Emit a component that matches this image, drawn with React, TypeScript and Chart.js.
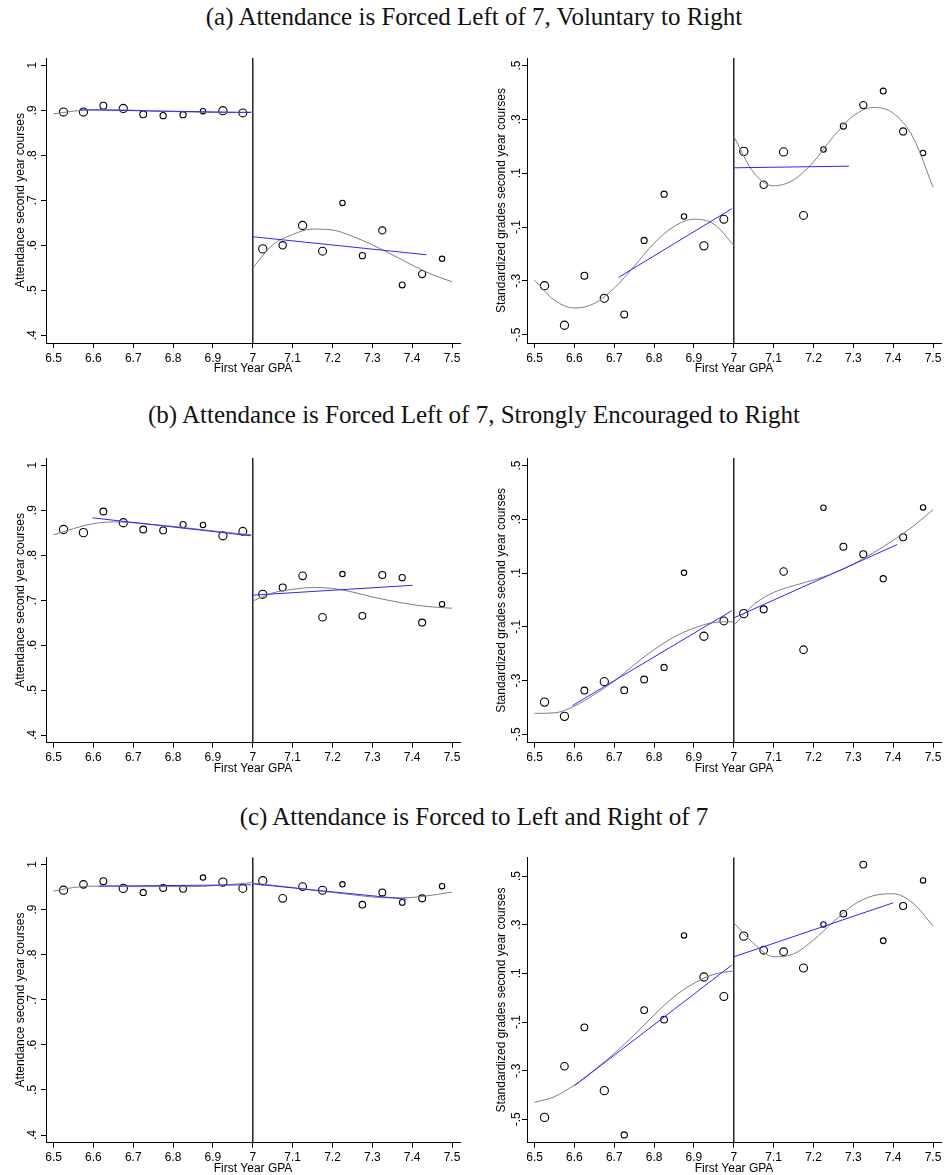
import React, { useEffect, useRef } from "react";
import { Chart, registerables } from "chart.js";

Chart.register(...registerables);

// ---------- data ----------
const gpaBins = [6.525, 6.575, 6.625, 6.675, 6.725, 6.775, 6.825, 6.875, 6.925, 6.975, 7.025, 7.075, 7.125, 7.175, 7.225, 7.275, 7.325, 7.375, 7.425, 7.475];
const xTicks = [6.5, 6.6, 6.7, 6.8, 6.9, 7, 7.1, 7.2, 7.3, 7.4, 7.5];
const attendanceTicks = [0.4, 0.5, 0.6, 0.7, 0.8, 0.9, 1];
const gradeTicks = [-0.5, -0.3, -0.1, 0.1, 0.3, 0.5];
const cutoff = 7;
const curveLeftX = [6.5, 6.55, 6.6, 6.65, 6.7, 6.75, 6.8, 6.85, 6.9, 6.95, 7.0];
const curveRightX = [7.0, 7.05, 7.1, 7.15, 7.2, 7.25, 7.3, 7.35, 7.4, 7.45, 7.5];

// (a) Forced left of 7, voluntary to right
const obsA = [100, 100, 60, 100, 60, 45, 45, 30, 100, 90, 100, 75, 100, 90, 30, 45, 70, 40, 70, 30];
const attendanceA = [0.896, 0.896, 0.91, 0.904, 0.891, 0.888, 0.89, 0.898, 0.899, 0.894, 0.592, 0.6, 0.644, 0.587, 0.694, 0.577, 0.633, 0.512, 0.536, 0.57];
const gradesA = [-0.318, -0.465, -0.281, -0.365, -0.425, -0.15, 0.022, -0.061, -0.17, -0.071, 0.181, 0.057, 0.179, -0.057, 0.188, 0.275, 0.353, 0.405, 0.255, 0.175];
const attCurveLA = [0.892, 0.898, 0.901, 0.901, 0.9, 0.898, 0.897, 0.896, 0.895, 0.895, 0.896];
const attCurveRA = [0.55, 0.601, 0.624, 0.636, 0.634, 0.62, 0.601, 0.579, 0.556, 0.535, 0.519];
const gradeCurveLA = [-0.298, -0.372, -0.401, -0.384, -0.327, -0.246, -0.16, -0.098, -0.071, -0.089, -0.168];
const gradeCurveRA = [0.236, 0.102, 0.053, 0.075, 0.142, 0.236, 0.313, 0.344, 0.323, 0.233, 0.048];
const attFitLA = [[6.567, 0.901], [6.995, 0.895]];
const attFitRA = [[7.0, 0.619], [7.436, 0.579]];
const gradeFitLA = [[6.711, -0.287], [6.995, -0.032]];
const gradeFitRA = [[7.0, 0.12], [7.289, 0.126]];

// (b) Forced left of 7, strongly encouraged to right
const obsB = [100, 100, 60, 100, 60, 60, 45, 30, 100, 90, 100, 65, 80, 80, 30, 60, 65, 45, 65, 30];
const attendanceB = [0.857, 0.85, 0.897, 0.872, 0.857, 0.855, 0.868, 0.867, 0.843, 0.853, 0.713, 0.728, 0.754, 0.662, 0.758, 0.665, 0.756, 0.75, 0.65, 0.691];
const gradesB = [-0.38, -0.433, -0.337, -0.304, -0.336, -0.296, -0.251, 0.101, -0.135, -0.078, -0.051, -0.035, 0.106, -0.185, 0.343, 0.198, 0.17, 0.079, 0.233, 0.344];
const attCurveLB = [0.845, 0.859, 0.87, 0.874, 0.872, 0.868, 0.864, 0.859, 0.854, 0.849, 0.845];
const attCurveRB = [0.698, 0.716, 0.724, 0.728, 0.726, 0.718, 0.707, 0.698, 0.69, 0.685, 0.682];
const gradeCurveLB = [-0.422, -0.42, -0.395, -0.352, -0.302, -0.241, -0.185, -0.138, -0.105, -0.084, -0.081];
const gradeCurveRB = [-0.095, -0.017, 0.028, 0.053, 0.074, 0.099, 0.133, 0.175, 0.222, 0.274, 0.336];
const attFitLB = [[6.598, 0.883], [6.995, 0.843]];
const attFitRB = [[7.0, 0.711], [7.401, 0.733]];
const gradeFitLB = [[6.595, -0.393], [6.995, -0.04]];
const gradeFitRB = [[7.0, -0.067], [7.41, 0.206]];

// (c) Forced to left and right of 7
const obsC = [100, 80, 60, 100, 45, 60, 60, 30, 100, 90, 100, 85, 85, 95, 30, 55, 60, 35, 65, 30];
const attendanceC = [0.943, 0.956, 0.963, 0.947, 0.938, 0.948, 0.946, 0.971, 0.961, 0.947, 0.964, 0.925, 0.951, 0.943, 0.956, 0.911, 0.938, 0.916, 0.925, 0.952];
const gradesC = [-0.492, -0.282, -0.122, -0.382, -0.564, -0.051, -0.09, 0.256, 0.085, 0.005, 0.253, 0.195, 0.189, 0.122, 0.301, 0.345, 0.547, 0.234, 0.377, 0.482];
const attCurveLC = [0.941, 0.949, 0.952, 0.952, 0.951, 0.951, 0.951, 0.951, 0.953, 0.956, 0.96];
const attCurveRC = [0.959, 0.954, 0.949, 0.943, 0.938, 0.933, 0.928, 0.926, 0.927, 0.932, 0.939];
const gradeCurveLC = [-0.43, -0.407, -0.359, -0.297, -0.229, -0.153, -0.071, 0.004, 0.059, 0.096, 0.11];
const gradeCurveRC = [0.308, 0.223, 0.168, 0.18, 0.237, 0.312, 0.381, 0.419, 0.427, 0.388, 0.295];
const attFitLC = [[6.615, 0.952], [6.995, 0.955]];
const attFitRC = [[7.0, 0.957], [7.386, 0.923]];
const gradeFitLC = [[6.6, -0.362], [6.995, 0.134]];
const gradeFitRC = [[7.0, 0.168], [7.4, 0.39]];

const titles = [
  "(a) Attendance is Forced Left of 7, Voluntary to Right",
  "(b) Attendance is Forced Left of 7, Strongly Encouraged to Right",
  "(c) Attendance is Forced to Left and Right of 7",
];
const xTitle = "First Year GPA";
const attTitle = "Attendance second year courses";
const gradeTitle = "Standardized grades second year courses";

// ---------- helpers ----------
const fmt = (v: number) => {
  const s = String(Math.round(v * 1000) / 1000);
  return s.replace(/^0\./, ".").replace(/^-0\./, "-.");
};
const pts = (xs: number[], ys: number[]) => xs.map((x, i) => ({ x, y: ys[i] }));
const pairs = (p: number[][]) => p.map(([x, y]) => ({ x, y }));
const radius = (n: number) => 1.0 + 0.31 * Math.sqrt(n);

const AXIS_FONT = { family: "'Liberation Sans', Arial, sans-serif", size: 12 };

type PanelSpec = {
  values: number[];
  obs: number[];
  curveL: number[];
  curveR: number[];
  fitL: number[][];
  fitR: number[][];
  yTicks: number[];
  yMin: number;
  yMax: number;
  yTitle: string;
};

type Box = {
  left: number;
  top: number;
  width: number;
  height: number;
  padTop: number;
  padRight: number;
  yAxisWidth: number;
  xAxisHeight: number;
  yTitlePad: number;
  yTickPad: number;
  xTitlePad: number;
};

function Panel({ spec, box }: { spec: PanelSpec; box: Box }) {
  const ref = useRef<HTMLCanvasElement>(null);
  useEffect(() => {
    const lineDs = (data: any[], color: string, width: number, extra: any = {}) => ({
      data,
      showLine: true,
      borderColor: color,
      borderWidth: width,
      pointRadius: 0,
      pointHoverRadius: 0,
      fill: false,
      ...extra,
    });
    const chart = new Chart(ref.current!, {
      type: "scatter",
      data: {
        datasets: [
          lineDs(pairs(spec.fitL), "rgb(40,40,255)", 1),
          lineDs(pairs(spec.fitR), "rgb(40,40,255)", 1),
          lineDs(pts(curveLeftX, spec.curveL), "rgb(125,125,125)", 1, { cubicInterpolationMode: "monotone" }),
          lineDs(pts(curveRightX, spec.curveR), "rgb(125,125,125)", 1, { cubicInterpolationMode: "monotone" }),
          lineDs(
            [
              { x: cutoff, y: spec.yMin },
              { x: cutoff, y: spec.yMax },
            ],
            "#000",
            1.3
          ),
          {
            data: pts(gpaBins, spec.values),
            showLine: false,
            pointStyle: "circle",
            pointRadius: spec.obs.map(radius),
            pointHoverRadius: spec.obs.map(radius),
            pointBorderColor: "#000",
            pointBackgroundColor: "rgba(255,255,255,0)",
            pointBorderWidth: 1.1,
          },
        ] as any,
      },
      options: {
        animation: false,
        responsive: false,
        maintainAspectRatio: false,
        devicePixelRatio: 1,
        events: [],
        layout: { padding: { left: 0, top: box.padTop, right: box.padRight, bottom: 0 } },
        plugins: { legend: { display: false }, tooltip: { enabled: false }, title: { display: false } },
        scales: {
          x: {
            type: "linear",
            min: 6.481,
            max: 7.52,
            afterBuildTicks: (s: any) => {
              s.ticks = xTicks.map((v) => ({ value: v }));
            },
            afterFit: (s: any) => {
              s.height = box.xAxisHeight;
            },
            ticks: {
              callback: (v: any) => fmt(Number(v)),
              color: "#000",
              font: AXIS_FONT,
              padding: 3,
              minRotation: 0,
              maxRotation: 0,
              autoSkip: false,
            },
            grid: { display: true, drawOnChartArea: false, drawTicks: true, tickLength: 5, color: "#000", tickColor: "#000", lineWidth: 1 },
            border: { display: true, color: "#000", width: 1 },
            title: { display: true, text: xTitle, color: "#000", font: AXIS_FONT, padding: { top: 0, bottom: box.xTitlePad } },
          },
          y: {
            type: "linear",
            min: spec.yMin,
            max: spec.yMax,
            afterBuildTicks: (s: any) => {
              s.ticks = spec.yTicks.map((v) => ({ value: v }));
            },
            afterFit: (s: any) => {
              s.width = box.yAxisWidth;
            },
            ticks: {
              callback: (v: any) => fmt(Number(v)),
              color: "#000",
              font: AXIS_FONT,
              padding: box.yTickPad,
              minRotation: 90,
              maxRotation: 90,
              crossAlign: "center",
              autoSkip: false,
            },
            grid: { display: true, drawOnChartArea: false, drawTicks: true, tickLength: 5, color: "#000", tickColor: "#000", lineWidth: 1 },
            border: { display: true, color: "#000", width: 1 },
            title: { display: true, text: spec.yTitle, color: "#000", font: AXIS_FONT, padding: { top: box.yTitlePad, bottom: 0 } },
          },
        },
      } as any,
    });
    return () => chart.destroy();
  }, []);
  return (
    <canvas
      ref={ref}
      width={box.width}
      height={box.height}
      style={{ position: "absolute", left: box.left, top: box.top, width: box.width, height: box.height }}
    />
  );
}

const leftCol = { left: 0, width: 470, padRight: 10, yAxisWidth: 46, yTitlePad: 13, yTickPad: 3 };
const rightCol = { left: 470, width: 478, padRight: 7, yAxisWidth: 57, yTitlePad: 24.3, yTickPad: -1.3 };
const rows = [
  { top: 40, height: 350, padTop: 18, xAxisHeight: 47, xTitlePad: 13.8 },
  { top: 440, height: 350, padTop: 18, xAxisHeight: 47.3, xTitlePad: 14.1 },
  { top: 840, height: 335, padTop: 17.3, xAxisHeight: 32.3, xTitlePad: -0.9 },
];
const titleCenters = [17, 415, 817];

const attRange = { yMin: 0.383, yMax: 1.016 };
const gradeRangeAB = { yMin: -0.531, yMax: 0.528 };
const gradeRangeC = { yMin: -0.596, yMax: 0.577 };

const panelRows: [PanelSpec, PanelSpec][] = [
  [
    { values: attendanceA, obs: obsA, curveL: attCurveLA, curveR: attCurveRA, fitL: attFitLA, fitR: attFitRA, yTicks: attendanceTicks, ...attRange, yTitle: attTitle },
    { values: gradesA, obs: obsA, curveL: gradeCurveLA, curveR: gradeCurveRA, fitL: gradeFitLA, fitR: gradeFitRA, yTicks: gradeTicks, ...gradeRangeAB, yTitle: gradeTitle },
  ],
  [
    { values: attendanceB, obs: obsB, curveL: attCurveLB, curveR: attCurveRB, fitL: attFitLB, fitR: attFitRB, yTicks: attendanceTicks, ...attRange, yTitle: attTitle },
    { values: gradesB, obs: obsB, curveL: gradeCurveLB, curveR: gradeCurveRB, fitL: gradeFitLB, fitR: gradeFitRB, yTicks: gradeTicks, ...gradeRangeAB, yTitle: gradeTitle },
  ],
  [
    { values: attendanceC, obs: obsC, curveL: attCurveLC, curveR: attCurveRC, fitL: attFitLC, fitR: attFitRC, yTicks: attendanceTicks, ...attRange, yTitle: attTitle },
    { values: gradesC, obs: obsC, curveL: gradeCurveLC, curveR: gradeCurveRC, fitL: gradeFitLC, fitR: gradeFitRC, yTicks: gradeTicks, ...gradeRangeC, yTitle: gradeTitle },
  ],
];

export default function App() {
  return (
    <div style={{ position: "absolute", left: 0, top: 0, width: 948, height: 1175, overflow: "hidden", background: "#fff" }}>
      {titles.map((t, i) => (
        <div
          key={t}
          style={{
            position: "absolute",
            left: 0,
            width: 948,
            top: titleCenters[i] - 15,
            height: 30,
            lineHeight: "30px",
            textAlign: "center",
            fontFamily: "'Liberation Serif', 'Times New Roman', serif",
            fontSize: 25,
            color: "#111",
            whiteSpace: "nowrap",
          }}
        >
          {t}
        </div>
      ))}
      {panelRows.map((pair, r) => (
        <React.Fragment key={r}>
          <Panel spec={pair[0]} box={{ ...leftCol, ...rows[r] }} />
          <Panel spec={pair[1]} box={{ ...rightCol, ...rows[r] }} />
        </React.Fragment>
      ))}
    </div>
  );
}
